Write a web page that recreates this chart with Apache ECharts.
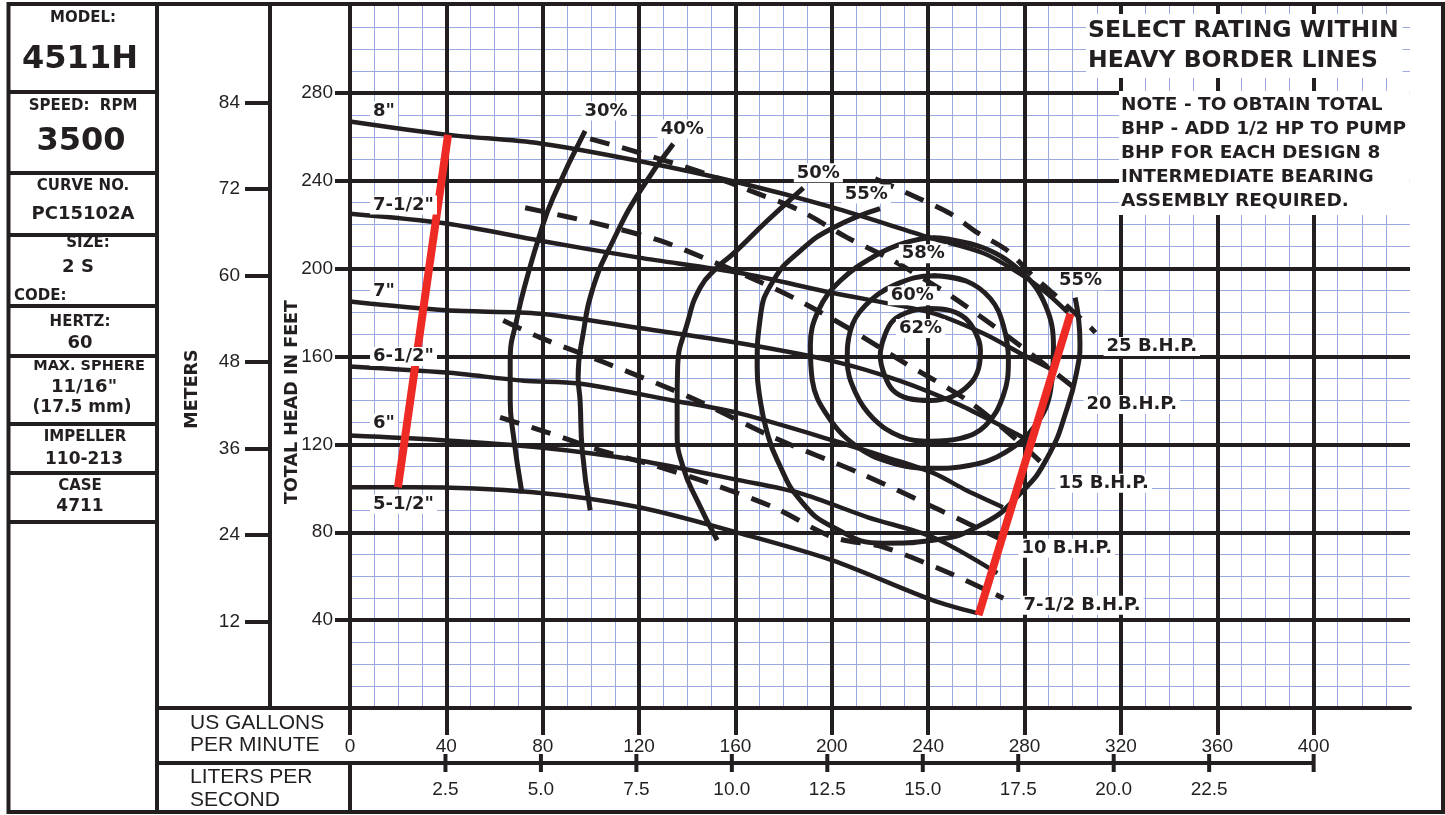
<!DOCTYPE html>
<html><head><meta charset="utf-8">
<script src="https://cdn.jsdelivr.net/npm/echarts@6.0.0/dist/echarts.min.js"></script>
<style>html,body{margin:0;padding:0;background:#fff}#c{width:1445px;height:815px}</style>
</head><body><div id="c"></div>
<script>
// ---------- tick labels ----------
const gpmTicks = [0,40,80,120,160,200,240,280,320,360,400];
const lpsTicks = [2.5,5.0,7.5,10.0,12.5,15.0,17.5,20.0,22.5];
const feetTicks = [40,80,120,160,200,240,280];
const meterTicks = [12,24,36,48,60,72,84];

// ---------- impeller head curves [GPM, feet] ----------
const head8   = [[0,267],[40,261],[79,257],[120,249],[162,239],[200,228],[241,214],[263,207],[279,197],[289,189],[298,180]];
const head75  = [[0,225],[40,220.5],[79,212.7],[120,205],[162,198],[200,189],[241,180],[263,170.5],[279,161],[291.5,154]];
const head7   = [[0,185],[40,181],[79,179.5],[120,173],[162,166],[200,158],[228,149],[253,138],[270,128.6],[283,121]];
const head65  = [[0,155.5],[40,152.7],[72,149],[95,147.7],[134,140],[162,134],[200,122],[223,114],[242,107],[256,99],[271,91.4]];
const head6   = [[0,124],[37,122],[79,118.6],[120,112.7],[162,103.6],[187,97.7],[215,86.8],[242,77.7],[268.7,61.4]];
const head55  = [[0,100.5],[26,100.5],[76,98.2],[120,91.4],[162,79.5],[200,67.3],[242,49],[260.4,43.2]];

// ---------- limit lines (red) ----------
const minFlow = [[19.9,100.5],[40.7,260.9]];
const maxFlow = [[260.9,42.3],[299.1,179.5]];

// ---------- efficiency curves ----------
const eff30 = [[97.6,262.7],[84.3,232.3],[78.9,215.9],[73.5,195.9],[69.4,177.7],[66.5,158.2],[66.5,140],[67.7,125],[71.4,97.7]];
const eff40 = [[134.2,256.8],[120.5,235.5],[109.2,212.7],[100.9,191.4],[96.8,170.5],[94.7,150.5],[95.5,140],[96.4,117.3],[99.7,90]];
const eff50 = [[188.2,236.8],[173.2,221.8],[159.1,206.8],[152.4,200.5],[145.4,191.4],[140,175],[136,155],[135.8,140],[135.8,125],[138.3,109.5],[144.1,94.5],[152.4,76.4]];
const eff55 = [[220,227.3],[200.6,218.6],[187,208.2],[175.7,194.5],[170.3,177.7],[169,155],[170.3,140],[173,126],[177.4,112.7],[187,94.5],[200.6,82.3],[221.4,75],[242,76.4],[263,84],[278.3,97.7],[289.5,114],[297.8,136.8],[302,155],[303,166],[301,186.8]];
const eff58 = [[242.2,214.1],[262.9,209.5],[279.5,197.7],[288.7,183.2],[292,165],[290.8,144.5],[284.5,128.6],[272,116.4],[257.5,110.5],[240.9,109.1],[224.3,111.8],[209.8,119.5],[198.1,133.2],[191.9,149.1],[191.1,165],[194.4,180.9],[203.5,194.5],[218.1,205.9],[230.5,211.8],[242.2,214.1],[262.9,209.5]];
const eff60 = [[242.2,196.8],[255.5,194.5],[265.8,186.4],[271.2,174.1],[273.3,158.2],[271.2,142.3],[263.8,128.6],[253.4,122.7],[240.9,121.4],[228.5,123.6],[217.2,131.8],[209.8,143.6],[206.4,158.2],[207.7,171.8],[213.9,183.2],[226.4,192.7],[242.2,196.8],[255.5,194.5]];
const eff62 = [[241,181.8],[249.2,180.9],[255.5,177.3],[259.6,170.9],[261.7,162.7],[260.9,154.5],[257.5,147.7],[250,141.8],[241,140],[231.8,140.9],[225.5,144.5],[221.8,151.8],[220.1,160.5],[221.8,169.1],[225.5,176.4],[232.6,180.5],[241,181.8],[249.2,180.9]];

// ---------- brake horsepower (dashed) ----------
const bhp25 = [[218,240.9],[235.5,232.3],[249.2,225],[260.4,216.4],[272.9,208.2],[282.5,197.7],[292,188.6],[307.4,173.2],[309.4,170.9]];
const bhp20 = [[99.7,259.1],[117.5,253.6],[146.6,243.6],[166.1,235.5],[186.9,226.4],[206.4,214.1],[225.5,203.6],[250.5,186.8],[277,165.9],[301,145.5]];
const bhp15 = [[72.7,227.7],[102.6,220.5],[128.8,212.7],[146.6,205],[166,196],[184,186.8],[206.4,173.2],[228.5,158.2],[256.3,140],[277,121.8],[289.5,109.1]];
const bhp10 = [[63.6,176.4],[79,168.6],[106.7,156.8],[141.2,141.4],[175.7,123.2],[211.8,106.8],[245,90],[272,75.9]];
const bhp75 = [[62.3,132.3],[81.8,125.5],[103.8,117.3],[125.9,110.5],[148.3,102.7],[175.7,91.4],[200.6,77.7],[221.4,73.2],[248,61.8],[271.2,50]];

// ---------- annotation texts [text, GPM, feet] ----------
const headLabels = [['8"',8.3,271.8],['7-1/2"',8.3,229],['7"',8.3,189.5],['6-1/2"',8.3,160],['6"',8.3,129.5],['5-1/2"',8.3,92.7]];
const effLabels = [['30%',106.3,271.8],['40%',137.9,263.6],['50%',194.4,243.6],['55%',214.3,234],['58%',238,206.8],['60%',233.4,187.7],['62%',236.8,172.7],['55%',303.2,194.5]];
const bhpLabels = [['25 B.H.P.',312.8,164.5],['20 B.H.P.',304.5,138.2],['15 B.H.P.',292.8,102.3],['10 B.H.P.',277.5,72.7],['7-1/2 B.H.P.',278.3,46.8]];

const infoBox = [
  ['MODEL:',15,83,18],['4511H',32,80,60],
  ['SPEED:  RPM',15,83,106],['3500',32,81,142],
  ['CURVE NO.',15,83,186],['PC15102A',18,83,214],
  ['SIZE:',15,88,243],['2 S',18,78,267],
  ['HERTZ:',15,80,322],['60',18,80,343],
  ['MAX. SPHERE',14.5,89,366],['11/16"',18,84,387],['(17.5 mm)',17,82,408],
  ['IMPELLER',15,85,437],['110-213',17,84,460],
  ['CASE',15,80,486],['4711',17,80,507]
];
const infoDividers = [92,173,235,306,356,424,473,522];

const INK = '#231f20', BLUE = '#9aaae0', RED = '#ee2a24';
const FF = '"Liberation Sans", Arial, Helvetica, sans-serif';
const FB = '"DejaVu Sans", "Liberation Sans", sans-serif';
const M_PER_FT = 3.28084, GPM_PER_LPS = 15.850323;

function solid(data, w, color, smooth) {
  return {type:'line', data, xAxisIndex:0, yAxisIndex:0, symbol:'none', showSymbol:false,
    smooth: smooth===undefined?0.3:smooth, silent:true, z:3,
    lineStyle:{color:color||INK, width:w||5, cap:'butt', join:'round'}};
}
function dashed(data) {
  return {type:'line', data, xAxisIndex:0, yAxisIndex:0, symbol:'none', showSymbol:false,
    smooth:0.3, silent:true, z:3, lineStyle:{color:INK, width:5, type:[20,13], cap:'butt'}};
}
function labels(arr, align, size) {
  return {type:'scatter', xAxisIndex:0, yAxisIndex:0, symbolSize:0, silent:true, z:10,
    itemStyle:{color:INK, opacity:1},
    data: arr.map(a => ({name:a[0], value:[a[1],a[2]]})),
    label:{show:true, position: align==='left'?'right':'inside', distance:0, formatter:'{b}',
      color:INK, opacity:1, textBorderWidth:0, textShadowBlur:0,
      fontFamily:FB, fontWeight:'bold', fontSize:size, backgroundColor:'#fff', padding:[1,3,0,3]}};
}

// layout
const GL = 350, GR = 35, GT = 5, GB = 107;
const lpsMax = 440 / GPM_PER_LPS;
const lpsEnd = 400 / GPM_PER_LPS;             // liters scale drawn up to 400 GPM
const lpsMarks = lpsTicks.concat([lpsEnd]);

const axisTxt = {color:INK, fontFamily:FF, fontSize:19};
const option = {
  animation:false,
  backgroundColor:'#fff',
  grid:[{left:GL, right:GR, top:GT, bottom:GB, containLabel:false},
        {left:GL, right:GR, top:753, height:20, containLabel:false}],
  xAxis:[
    {type:'value', gridIndex:0, min:0, max:440, interval:40, position:'bottom', z:1,
     axisLine:{show:true, onZero:false, lineStyle:{color:INK, width:4}},
     axisTick:{show:true, length:27, customValues:gpmTicks, lineStyle:{color:INK, width:4}},
     axisLabel:{show:true, customValues:gpmTicks, margin:29, ...axisTxt},
     splitLine:{show:true, lineStyle:{color:INK, width:4}}, minorSplitLine:{show:false}},
    {type:'value', gridIndex:0, min:0, max:440, interval:40, position:'top', z:0,
     axisLine:{show:false}, axisTick:{show:false}, axisLabel:{show:false}, splitLine:{show:false},
     minorTick:{show:false, splitNumber:4}, minorSplitLine:{show:true, lineStyle:{color:BLUE, width:1}}},
    {type:'value', gridIndex:1, min:0, max:lpsMax, position:'bottom', z:1,
     axisLine:{show:false}, axisTick:{show:false},
     axisLabel:{show:true, customValues:lpsTicks, margin:7, formatter:v=>v.toFixed(1), ...axisTxt},
     splitLine:{show:false}}
  ],
  yAxis:[
    {type:'value', gridIndex:0, min:0, max:320, interval:40, position:'left', z:1,
     axisLine:{show:true, onZero:false, lineStyle:{color:INK, width:4}},
     axisTick:{show:true, length:15, customValues:feetTicks, lineStyle:{color:INK, width:4}},
     axisLabel:{show:true, customValues:feetTicks, margin:17, ...axisTxt},
     splitLine:{show:true, lineStyle:{color:INK, width:4}}},
    {type:'value', gridIndex:0, min:0, max:320/M_PER_FT, interval:12, position:'left', offset:80, z:1,
     axisLine:{show:true, onZero:false, lineStyle:{color:INK, width:4}},
     axisTick:{show:true, length:25, customValues:meterTicks, lineStyle:{color:INK, width:4}},
     axisLabel:{show:true, customValues:meterTicks, margin:30, ...axisTxt},
     splitLine:{show:false}},
    {type:'value', gridIndex:0, min:0, max:320, interval:40, position:'right', z:0,
     axisLine:{show:false}, axisTick:{show:false}, axisLabel:{show:false}, splitLine:{show:false},
     minorTick:{show:false, splitNumber:4}, minorSplitLine:{show:true, lineStyle:{color:BLUE, width:1}}},
    {type:'value', gridIndex:1, min:0, max:2, show:false}
  ],
  series:[
    solid(head8,4.5), solid(head75,4.5), solid(head7,4.5), solid(head65,4.5), solid(head6,4.5), solid(head55,4.5),
    solid(eff30,5,INK,0.5), solid(eff40,5,INK,0.5), solid(eff50,5,INK,0.5), solid(eff55,5,INK,0.5),
    solid(eff58,5,INK,0.4), solid(eff60,5,INK,0.4), solid(eff62,5,INK,0.4),
    dashed(bhp25), dashed(bhp20), dashed(bhp15), dashed(bhp10), dashed(bhp75),
    Object.assign(solid(minFlow,8,RED,false),{z:4}), Object.assign(solid(maxFlow,8,RED,false),{z:4}),
    labels(headLabels,'left',18), labels(effLabels,'center',18), labels(bhpLabels,'left',18),
    // liters-per-second scale: base line and tick marks
    {type:'line', xAxisIndex:2, yAxisIndex:3, data:[[0,1],[lpsEnd,1]], symbol:'none', silent:true, z:5,
     lineStyle:{color:INK, width:4}},
    {type:'scatter', xAxisIndex:2, yAxisIndex:3, data:lpsMarks.map(v=>[v,1]), symbol:'rect',
     symbolSize:[4,18], silent:true, z:5, itemStyle:{color:INK, opacity:1}}
  ]
};

const chart = echarts.init(document.getElementById('c'), null, {renderer:'canvas'});
chart.setOption(option);

// ---------- frame & table (layout) ----------
const px0 = chart.convertToPixel({xAxisIndex:0}, 0);
const pyBot = chart.convertToPixel({yAxisIndex:0}, 0);
const L = 8.5, T = 4, R = 1443, B = 812, COL1 = 157, LROW = 763;
const ln = (x1,y1,x2,y2,w) => ({type:'line', z:50, silent:true, shape:{x1,y1,x2,y2}, style:{stroke:INK, lineWidth:w||4}});
const tx = (text,x,y,font,align,extra) => Object.assign({type:'text', z:60, silent:true, x, y,
  style:Object.assign({text, font, fill:INK, textAlign:align||'center', align:align||'center',
    textVerticalAlign:'middle', verticalAlign:'middle'}, extra||{})});
const bold = s => 'bold ' + s + 'px ' + FB;
const reg = s => s + 'px ' + FF;
const g = [
  {type:'rect', z:50, silent:true, shape:{x:L,y:T,width:R-L,height:B-T}, style:{fill:'none', stroke:INK, lineWidth:4}},
  ln(COL1,T,COL1,B),
  ln(COL1,pyBot,px0,pyBot),
  ln(COL1,LROW,px0,LROW),
  ln(px0,LROW,px0,B)
];
infoDividers.forEach(y => g.push(ln(L,y,COL1,y)));
infoBox.forEach(b => g.push(tx(b[0],b[2],b[3],bold(b[1]))));
g.push(tx('CODE:',14,296,bold(15),'left'));
g.push(Object.assign(tx('METERS',192,389,bold(17.5)),{rotation:Math.PI/2}));
g.push(Object.assign(tx('TOTAL HEAD IN FEET',292,402,bold(17.5)),{rotation:Math.PI/2}));
g.push(tx('US GALLONS',190,723,reg(21),'left'));
g.push(tx('PER MINUTE',190,745,reg(21),'left'));
g.push(tx('LITERS PER',190,777,reg(21),'left'));
g.push(tx('SECOND',190,800,reg(21),'left'));
g.push(tx('SELECT RATING WITHIN\nHEAVY BORDER LINES',1086,46,bold(23.5),'left',
  {backgroundColor:'#fff', padding:[2,4,2,2], lineHeight:30}));
g.push(tx('NOTE - TO OBTAIN TOTAL\nBHP - ADD 1/2 HP TO PUMP\nBHP FOR EACH DESIGN 8\nINTERMEDIATE BEARING\nASSEMBLY REQUIRED.',1119,153,bold(18.5),'left',
  {backgroundColor:'#fff', padding:[2,4,2,2], lineHeight:24}));
chart.setOption({graphic:{elements:g}});
</script>
</body></html>
